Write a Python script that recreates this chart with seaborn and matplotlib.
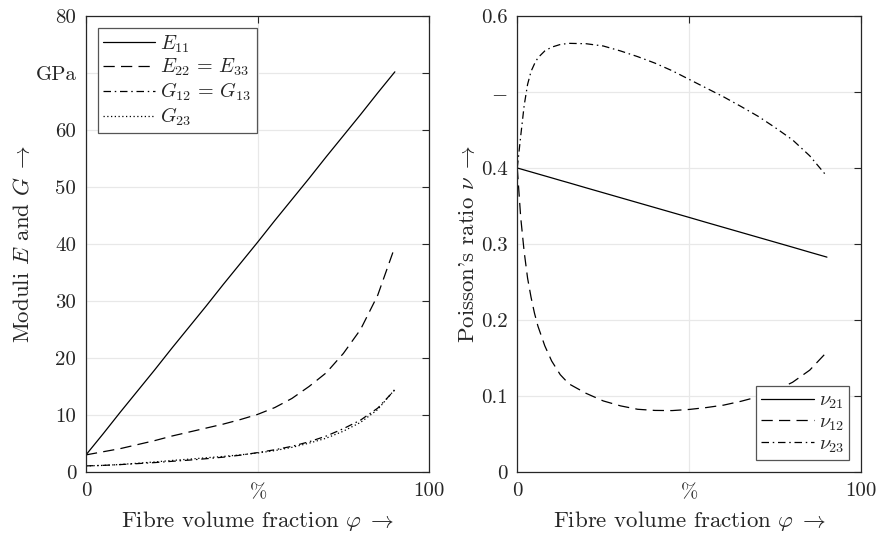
import numpy as np
import pandas as pd
import seaborn as sb
import matplotlib
matplotlib.use("Agg")
import matplotlib.pyplot as plt

# fibre volume fraction in %, moduli in GPa
phi_moduli = [0, 5, 10, 15, 20, 25, 30, 35, 40, 45, 50, 55, 60, 65, 70, 75, 80, 85, 90]
E11 = [3.0, 6.7, 10.5, 14.2, 17.9, 21.7, 25.4, 29.1, 32.9, 36.6, 40.3, 44.1, 47.8, 51.5,
       55.3, 59.0, 62.7, 66.5, 70.2]
E22 = [3.0, 3.55, 4.1, 4.8, 5.5, 6.3, 7.0, 7.7, 8.4, 9.2, 10.1, 11.3, 12.9, 15.0, 17.4,
       20.8, 25.0, 31.0, 39.5]
G12 = [1.07, 1.16, 1.3, 1.47, 1.65, 1.87, 2.08, 2.33, 2.6, 2.95, 3.4, 3.9, 4.5, 5.3,
       6.3, 7.6, 9.1, 11.2, 14.4]
G23 = [1.07, 1.155, 1.315, 1.535, 1.76, 2.02, 2.25, 2.49, 2.73, 3.01, 3.33, 3.75, 4.32,
       5.06, 5.93, 7.16, 8.7, 10.95, 14.5]

# Poisson's ratios
phi_nu = [0, 1, 2, 3, 4, 5, 6, 8, 10, 12.5, 15, 20, 25, 30, 35, 40, 45, 50, 55, 60, 65,
          70, 75, 80, 85, 90]
nu21 = [0.400, 0.3987, 0.3974, 0.3961, 0.3948, 0.3935, 0.3922, 0.3896, 0.3870, 0.3837,
        0.3805, 0.3739, 0.3674, 0.3609, 0.3544, 0.3479, 0.3414, 0.3349, 0.3283, 0.3218,
        0.3153, 0.3088, 0.3023, 0.2958, 0.2892, 0.2827]
nu12 = [0.400, 0.335, 0.290, 0.255, 0.230, 0.209, 0.192, 0.166, 0.146, 0.128, 0.116,
        0.1035, 0.0935, 0.087, 0.0825, 0.081, 0.0808, 0.0823, 0.0848, 0.088, 0.093,
        0.099, 0.107, 0.118, 0.134, 0.158]
nu23 = [0.400, 0.442, 0.482, 0.510, 0.527, 0.537, 0.545, 0.554, 0.559, 0.5625, 0.564,
        0.5635, 0.5605, 0.554, 0.5465, 0.538, 0.528, 0.5165, 0.505, 0.4935, 0.481,
        0.468, 0.453, 0.437, 0.416, 0.389]

x_ticks = [0, 50, 100]
x_ticklabels = ["0", r"$\%$", "100"]
E_ticks = [0, 10, 20, 30, 40, 50, 60, 70, 80]
E_ticklabels = ["0", "10", "20", "30", "40", "50", "60", "GPa", "80"]
nu_ticks = [0, 0.1, 0.2, 0.3, 0.4, 0.5, 0.6]
nu_ticklabels = ["0", "0.1", "0.2", "0.3", "0.4", r"$-$", "0.6"]

sb.set_style("whitegrid")
plt.rcParams['font.family'] = ['cmr10', 'DejaVu Serif']
plt.rcParams['mathtext.fontset'] = 'cm'
plt.rcParams['axes.unicode_minus'] = False

dark = '#262626'
styles = {
    'solid': '-',
    'dash': (0, (9, 5)),
    'dashdot': (0, (6, 3, 1.2, 3)),
    'dot': (0, (1, 2)),
}

fig = plt.figure(figsize=(8.8, 5.38), dpi=100)
ax1 = fig.add_axes([0.0977, 0.1227, 0.390, 0.8476])
ax2 = fig.add_axes([0.5878, 0.1227, 0.391, 0.8476])

df_mod = pd.DataFrame({'phi': phi_moduli, 'E11': E11, 'E22': E22, 'G12': G12, 'G23': G23})
df_nu = pd.DataFrame({'phi': phi_nu, 'nu21': nu21, 'nu12': nu12, 'nu23': nu23})

#left: moduli
for col, ls, lab in [('E11', styles['solid'], r'$E_{11}$'),
                     ('E22', styles['dash'], r'$E_{22}\,=\,E_{33}$'),
                     ('G12', styles['dashdot'], r'$G_{12}\,=\,G_{13}$'),
                     ('G23', styles['dot'], r'$G_{23}$')]:
    sb.lineplot(data=df_mod, x='phi', y=col, ax=ax1, color='k', lw=0.9,
                linestyle=ls, label=lab)

#right: poisson ratios
for col, ls, lab in [('nu21', styles['solid'], r'$\nu_{21}$'),
                     ('nu12', styles['dash'], r'$\nu_{12}$'),
                     ('nu23', styles['dashdot'], r'$\nu_{23}$')]:
    sb.lineplot(data=df_nu, x='phi', y=col, ax=ax2, color='k', lw=0.9,
                linestyle=ls, label=lab)

ax1.set_ylim(0, 80)
ax1.set_yticks(E_ticks)
ax1.set_yticklabels(E_ticklabels)
ax1.set_ylabel(r"Moduli $E$ and $G\;\rightarrow$", fontsize=16.5, color=dark, labelpad=2)

ax2.set_ylim(0, 0.6)
ax2.set_yticks(nu_ticks)
ax2.set_yticklabels(nu_ticklabels)
ax2.set_ylabel(r"Poisson's ratio $\nu\;\rightarrow$", fontsize=16.5, color=dark, labelpad=2)

for ax in (ax1, ax2):
    ax.set_xlim(0, 100)
    ax.set_xticks(x_ticks)
    ax.set_xticklabels(x_ticklabels)
    ax.set_xlabel(r"Fibre volume fraction $\varphi\;\rightarrow$", fontsize=16.5, color=dark,
                  labelpad=5)
    ax.grid(True, color='#e8e8e8', lw=0.9)
    ax.tick_params(direction='in', length=5, width=0.8, color=dark, labelcolor=dark,
                   labelsize=15, top=True, right=True, pad=7)
    for sp in ax.spines.values():
        sp.set_visible(True)
        sp.set_color(dark)
        sp.set_linewidth(0.9)
    ax.set_facecolor('white')

leg1 = ax1.legend(loc='upper left', fontsize=14.5, handlelength=2.6, frameon=True,
                  fancybox=False, framealpha=1, edgecolor='#555555',
                  borderaxespad=0.6, handletextpad=0.25, labelspacing=0.12,
                  borderpad=0.25)
leg1.get_frame().set_linewidth(0.9)
leg2 = ax2.legend(loc='lower right', fontsize=14.5, handlelength=2.6, frameon=True,
                  fancybox=False, framealpha=1, edgecolor='#555555',
                  borderaxespad=0.6, handletextpad=0.25, labelspacing=0.12,
                  borderpad=0.25)
leg2.get_frame().set_linewidth(0.9)

plt.savefig("out.png", dpi=100)
